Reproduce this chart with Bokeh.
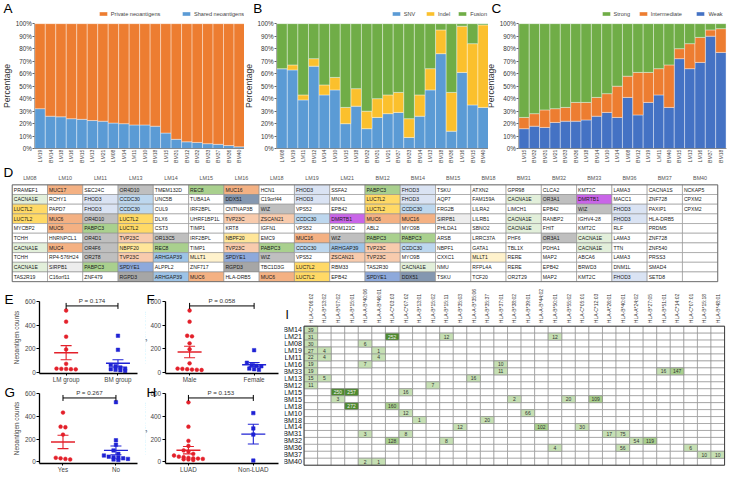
import math
import numpy as np
from bokeh.plotting import figure
from bokeh.models import (Range1d, FixedTicker, Label, Legend, LegendItem, ColumnDataSource)
from bokeh.layouts import row, column
from bokeh.embed import file_html
from bokeh.resources import INLINE
from bokeh.core.properties import value

FONT = "Liberation Sans"

# ---------------- data: panel A ----------------
A_SAMPLES = ["LM19", "BM14", "LM18", "LM16", "BM15", "LM13", "LM21", "LM08", "LM14", "LM11",
             "LM10", "BM18", "LM15", "BM31", "BM12", "BM32", "BM33", "BM37", "BM36", "BM40"]
A_SHARED = [32, 26, 25.5, 24, 23.5, 22.5, 22, 20.5, 20, 19, 19, 18, 12.5, 7.5, 5.5, 5, 4, 3.5, 2.5, 1.5]
A_PRIVATE = [68, 74, 74.5, 76, 76.5, 77.5, 78, 79.5, 80, 81, 81, 82, 87.5, 92.5, 94.5, 95, 96, 96.5, 97.5, 98.5]

# ---------------- data: panel B ----------------
B_SAMPLES = ["LM08", "LM19", "LM11", "BM12", "LM14", "LM10", "LM15", "LM18", "BM32", "BM31",
             "LM21", "BM37", "BM33", "BM14", "LM13", "BM18", "BM36", "LM16", "BM15", "BM40"]
B_SNV = [64, 63, 39, 66, 43, 47, 20, 34, 16, 25, 28, 29, 9, 26, 47, 76, 14, 61, 35, 33]
B_INDEL = [0, 4, 4, 6, 8, 10, 13, 14, 14, 15, 15, 16, 15, 17, 17, 19, 31, 37, 49, 66]
B_FUSION = [36, 33, 57, 28, 49, 43, 67, 52, 70, 60, 57, 55, 76, 57, 36, 5, 55, 2, 16, 1]

# ---------------- data: panel C ----------------
C_SAMPLES = ["LM15", "BM32", "BM31", "LM21", "BM33", "BM36", "LM18", "BM14", "LM10", "LM14",
             "LM08", "BM12", "LM19", "LM11", "BM40", "BM15", "LM13", "LM16", "BM37", "BM18"]
C_WEAK = [16, 18, 17, 21, 22, 22, 23, 26, 29, 25, 41, 27, 37, 43, 33, 72, 64, 69, 90, 77]
C_INTER = [9, 10, 14, 11, 11, 15, 14, 15, 15, 25, 17, 34, 24, 21, 34, 8, 20, 20, 5, 19]
C_STRONG = [75, 72, 69, 68, 67, 63, 63, 59, 56, 50, 42, 39, 39, 36, 33, 20, 16, 11, 5, 4]

# ---------------- data: panel D (table) ----------------
D_SAMPLES = ["LM08", "LM10", "LM11", "LM13", "LM14", "LM15", "LM16", "LM18", "LM19", "LM21",
             "BM12", "BM14", "BM15", "BM18", "BM31", "BM32", "BM33", "BM36", "BM37", "BM40"]
D_ROW1 = ["PRAMEF1", "MUC17", "SEC24C", "OR4D10", "TMEM132D", "REC8", "MUC16", "HCN1", "FHOD3", "SSFA2",
          "PABPC3", "FHOD3", "TSKU", "ATXN2", "GPR98", "CLCA2", "KMT2C", "LAMA3", "CACNA1S", "NCKAP5"]
D_ROW2 = ["CACNA1E", "RCHY1", "FHOD3", "CCDC30", "UNC5B", "TUBA1A", "DDX51", "C19orf44", "FHOD3", "MNX1",
          "LUC7L2", "FHOD3", "AQP7", "FAM159A", "CACNA1E", "OR3A1", "DMRTB1", "MACC1", "ZNF728", "CPXM2"]
D_ROW3 = ["LUC7L2", "PAPD7", "FHOD3", "CCDC30", "CUL9", "IRF2BPL", "CNTNAP3B", "WIZ", "VPS52", "EPB42",
          "LUC7L2", "CCDC30", "FRG2B", "LILRA2", "LIMCH1", "EPB42", "WIZ", "FHOD3", "PAXIP1", "CPXM2"]
D_ROW4 = ["LUC7L2", "MUC6", "OR4D10", "LUC7L2", "DLX6", "UHRF1BP1L", "TVP23C", "ZSCAN21", "CCDC30", "DMRTB1",
          "MUC6", "MUC16", "SIRPB1", "LILRB1", "CACNA1E", "RANBP2", "IGHV4-28", "FHOD3", "HLA-DRB5", ""]
D_ROW5 = ["MYCBP2", "MUC6", "PABPC3", "LUC7L2", "CST3", "TIMP1", "KRT8", "IGFN1", "VPS52", "POM121C",
          "ABL2", "MYO9B", "PHLDA1", "SBNO2", "CACNA1E", "FHIT", "KMT2C", "RLF", "PRDM5", ""]
D_ROW6 = ["TCHH", "HNRNPCL1", "OR4D1", "TVP23C", "OR13C5", "IRF2BPL", "NBPF20", "EMC9", "MUC16", "WIZ",
          "PABPC3", "PABPC3", "ARSB", "LRRC37A", "PHF6", "OR3A1", "CACNA1E", "LAMA3", "ZNF728", ""]
D_ROW7 = ["CACNA1E", "MUC4", "OR4F6", "NBPF20", "REC8", "TIMP1", "TVP23C", "PABPC3", "CCDC30", "ARHGAP39",
          "TVP23C", "CCDC30", "NBPF1", "GATA1", "TBL1X", "PDHA1", "CACNA1E", "TTN", "ZNF540", ""]
D_ROW8 = ["TCHH", "RP4-576H24", "OR2T8", "TVP23C", "ARHGAP39", "MLLT1", "SPDYE1", "WIZ", "VPS52", "ZSCAN21",
          "TVP23C", "MYO9B", "CXXC1", "MLLT1", "RERE", "MAP2", "ABCA6", "LAMA3", "PRSS3", ""]
D_ROW9 = ["CACNA1E", "SIRPB1", "PABPC3", "SPDYE1", "ALPPL2", "ZNF717", "RGPD3", "TBC1D3G", "LUC7L2", "RBM33",
          "TAS2R30", "CACNA1E", "NMU", "RFPL4A", "RERE", "EPB42", "BRWD3", "DNM1L", "SMAD4", ""]
D_ROW10 = ["TAS2R19", "C16orf11", "ZNF479", "RGPD3", "ARHGAP39", "MUC6", "HLA-DRB5", "MUC6", "LUC7L2", "EPB42",
           "SPDYE1", "DDX51", "TSKU", "TCF20", "OR2T29", "MAP2", "KMT2C", "FHOD3", "SETD8", ""]
D_ROWS = [D_ROW1, D_ROW2, D_ROW3, D_ROW4, D_ROW5, D_ROW6, D_ROW7, D_ROW8, D_ROW9, D_ROW10]

# ---------------- data: panels E-H ----------------
E_CATS = ["LM group", "BM group"]
E_LM = [525, 430, 302, 193, 71, 30, 28, 27, 25, 24]
E_BM = [310, 190, 60, 50, 40, 30, 25, 20, 15, 10]
E_P = "P = 0.174"

F_CATS = ["Male", "Female"]
F_MALE = [525, 430, 310, 305, 245, 195, 75, 30, 28, 25, 22, 20, 18]
F_FEMALE = [187, 80, 60, 55, 50, 30, 25, 20]
F_P = "P = 0.058"

G_CATS = ["Yes", "No"]
G_YES = [435, 310, 305, 240, 35, 30, 25, 20]
G_NO = [527, 190, 150, 100, 70, 55, 45, 40, 35, 30, 25, 20, 15]
G_P = "P = 0.267"

H_CATS = ["LUAD", "Non-LUAD"]
H_LUAD = [525, 310, 185, 140, 100, 90, 70, 55, 45, 40, 35, 30, 28, 25, 22, 20, 15]
H_NONLUAD = [430, 295, 240, 10]
H_P = "P = 0.153"

# ---------------- data: panel I (heatmap) ----------------
I_SAMPLES = ["BM14", "LM21", "LM08", "LM19", "LM11", "LM16", "BM33", "LM13", "BM12", "LM15",
             "BM15", "LM18", "LM10", "BM18", "LM14", "BM31", "BM32", "BM36", "BM37", "BM40"]
I_ALLELES = ["HLA-C*06:02", "HLA-B*13:02", "HLA-B*07:02", "HLA-B*15:01", "HLA-A-B*40:06",
             "HLA-A-B*46:01", "HLA-C*03:03", "HLA-C*07:02", "HLA-B*13:01", "HLA-B*15:02",
             "HLA-B*15:11", "HLA-B*35:03", "HLA-A-B*35:06", "HLA-B*35:37", "HLA-B*37:01",
             "HLA-B*38:02", "HLA-B*39:01", "HLA-A-B*44:02", "HLA-B*50:01", "HLA-B*55:02",
             "HLA-C*05:01", "HLA-C*12:03", "HLA-A*26:01", "HLA-B*40:01", "HLA-A*24:02",
             "HLA-B*27:05", "HLA-B*51:01", "HLA-C*14:02", "HLA-C*07:01", "HLA-B*15:18", "HLA-B*48:01"]
I_CELL_SAMPLE = ["BM14",
                 "LM21", "LM21", "LM21", "LM21",
                 "LM08", "LM08",
                 "LM19", "LM19", "LM19",
                 "LM11", "LM11", "LM11",
                 "LM16", "LM16", "LM16",
                 "BM33", "BM33", "BM33", "BM33",
                 "LM13", "LM13", "LM13",
                 "BM12", "BM12",
                 "LM15", "LM15", "LM15",
                 "BM15", "BM15", "BM15", "BM15",
                 "LM18", "LM18",
                 "LM10", "LM10",
                 "BM18", "BM18",
                 "LM14", "LM14", "LM14",
                 "BM31", "BM31", "BM31", "BM31",
                 "BM32", "BM32", "BM32", "BM32",
                 "BM36", "BM36", "BM36",
                 "BM37", "BM37",
                 "BM40", "BM40"]
I_CELL_ALLELE = ["HLA-C*06:02",
                 "HLA-C*06:02", "HLA-C*03:03", "HLA-B*15:11", "HLA-B*50:01",
                 "HLA-C*06:02", "HLA-A-B*40:06",
                 "HLA-C*06:02", "HLA-B*13:02", "HLA-A-B*46:01",
                 "HLA-C*06:02", "HLA-B*13:02", "HLA-A-B*46:01",
                 "HLA-C*06:02", "HLA-A-B*40:06", "HLA-B*37:01",
                 "HLA-C*06:02", "HLA-B*37:01", "HLA-B*51:01", "HLA-C*14:02",
                 "HLA-C*06:02", "HLA-B*13:02", "HLA-A-B*35:06",
                 "HLA-C*06:02", "HLA-B*15:02",
                 "HLA-B*07:02", "HLA-B*15:01", "HLA-C*07:02",
                 "HLA-B*07:02", "HLA-B*38:02", "HLA-B*55:02", "HLA-C*12:03",
                 "HLA-B*15:01", "HLA-C*03:03",
                 "HLA-C*07:02", "HLA-B*39:01",
                 "HLA-B*13:01", "HLA-B*35:37",
                 "HLA-B*35:03", "HLA-A-B*44:02", "HLA-C*05:01",
                 "HLA-A-B*40:06", "HLA-C*07:02", "HLA-A*26:01", "HLA-B*40:01",
                 "HLA-C*03:03", "HLA-B*15:11", "HLA-A*24:02", "HLA-B*27:05",
                 "HLA-B*50:01", "HLA-B*40:01", "HLA-C*07:01",
                 "HLA-B*15:18", "HLA-B*48:01",
                 "HLA-A-B*40:06", "HLA-A-B*46:01"]
I_CELL_VALUE = [39,
                31, 252, 12, 12,
                30, 6,
                27, 4, 1,
                22, 4, 4,
                19, 7, 10,
                19, 11, 16, 147,
                15, 5, 16,
                11, 7,
                250, 257, 16,
                3, 2, 20, 109,
                272, 160,
                12, 66,
                1, 20,
                12, 102, 30,
                3, 8, 17, 75,
                128, 8, 54, 119,
                4, 56, 6,
                10, 10,
                2, 1]

# ---------------- styles ----------------
ORANGE = "#ED7D31"
LBLUE = "#5B9BD5"
YELLOW = "#FBC02D"
GREEN = "#70AD47"
DBLUE = "#4472C4"
RED = "#E3202A"
PBLUE = "#1F22D4"

GENE_COLORS = {
    "MUC17": "#F4B183", "MUC16": "#F4B183", "MUC6": "#F4B183", "MUC4": "#F4B183",
    "OR4D10": "#BFBFBF", "OR4D1": "#BFBFBF", "OR4F6": "#BFBFBF", "OR2T8": "#BFBFBF",
    "OR13C5": "#BFBFBF", "OR3A1": "#BFBFBF", "WIZ": "#BFBFBF", "RGPD3": "#A6A6A6",
    "REC8": "#A9D08E", "PABPC3": "#A9D08E", "CACNA1E": "#E2EFDA",
    "FHOD3": "#DAE3F3", "CCDC30": "#BDD7EE", "LUC7L2": "#FFD966",
    "TVP23C": "#F8CBAD", "ZSCAN21": "#F8CBAD", "NBPF20": "#FFE699", "MLLT1": "#FFF2CC",
    "DDX51": "#8497B0", "DMRTB1": "#C965E8", "SPDYE1": "#8EA9DB", "ARHGAP39": "#9DC3E6",
    "SIRPB1": "#EDEDED",
}

SX = 727 / 743
SY = 475 / 491


def gx(v):
    return int(round(v * SX))


def gy(v):
    return int(round(v * SY))


class Geo:
    """Maps reference-picture pixels of one panel box to that panel's data space."""

    def __init__(self, box, fx, dx, fy, dy):
        self.box = box
        self.fx0, self.dx0 = fx[0], dx[0]
        self.kx = (dx[1] - dx[0]) / (fx[1] - fx[0])
        self.fy0, self.dy0 = fy[0], dy[0]
        self.ky = (dy[1] - dy[0]) / (fy[1] - fy[0])

    def x(self, px):
        return self.dx0 + (px - self.fx0) * self.kx

    def y(self, py):
        return self.dy0 + (py - self.fy0) * self.ky

    def ppu_x(self):
        return SX / abs(self.kx)


def make_fig(geo, **kw):
    x0, y0, x1, y1 = geo.box
    p = figure(width=gx(x1) - gx(x0), height=gy(y1) - gy(y0),
               x_range=Range1d(geo.x(x0), geo.x(x1)), y_range=Range1d(geo.y(y1), geo.y(y0)),
               output_backend="svg", toolbar_location=None,
               min_border=0, min_border_left=0, min_border_right=0,
               min_border_top=0, min_border_bottom=0, **kw)
    p.background_fill_color = "white"
    p.border_fill_color = "white"
    p.outline_line_color = None
    p.xgrid.visible = False
    p.ygrid.visible = False
    return p


def add_letter(p, geo, rx, ry_top, text, size="13.5px"):
    p.add_layout(Label(x=geo.x(rx), y=geo.y(ry_top), x_units="data", y_units="data",
                       text=text, text_font=FONT, text_font_size=size, text_color="black",
                       text_baseline="top", text_align="left"))


def legend_at(geo, items, rx, ry_bottom):
    return Legend(items=items,
                  location=((rx - geo.box[0]) * SX, (geo.box[3] - ry_bottom) * SY),
                  orientation="horizontal", glyph_width=10, glyph_height=5,
                  label_height=6, label_standoff=3, padding=0, margin=0, spacing=0,
                  label_text_font=FONT, label_text_font_size="5.6px",
                  label_text_color="#444444", border_line_color=None,
                  background_fill_alpha=0)


TOP_H = 170


def bar_panel(letter, letter_x, samples, keys, series, colors, legend_spec, box, bars_x):
    n = len(samples)
    geo = Geo(box, bars_x, (-0.5, n - 0.5), (153.6, 24), (0, 100))
    p = make_fig(geo)
    idx = list(range(n))
    data = {"x": idx}
    for k, s in zip(keys, series):
        data[k] = s
    rs = p.vbar_stack(keys, x="x", width=1.0, source=ColumnDataSource(data),
                      fill_color=colors, line_color="white", line_width=0.7, line_alpha=0.55)
    ya = p.yaxis[0]
    ya.fixed_location = -0.5
    ya.bounds = (0, 100)
    ya.ticker = FixedTicker(ticks=list(range(0, 101, 10)))
    ya.major_label_overrides = {t: f"{t}%" for t in range(0, 101, 10)}
    ya.major_label_text_font = FONT
    ya.major_label_text_font_size = "6.3px"
    ya.major_label_text_color = "#333333"
    ya.major_label_standoff = 1
    ya.axis_label = "Percentage"
    ya.axis_label_text_font = FONT
    ya.axis_label_text_font_size = "8.6px"
    ya.axis_label_text_font_style = "normal"
    ya.axis_label_text_color = "#333333"
    ya.axis_label_standoff = 0
    ya.axis_line_color = "#9a9a9a"
    ya.axis_line_width = 0.8
    ya.major_tick_out = 2
    ya.major_tick_in = 0
    ya.major_tick_line_color = "#666666"
    ya.minor_tick_line_color = None
    xa = p.xaxis[0]
    xa.fixed_location = 0
    xa.bounds = (-0.5, n - 0.5)
    xa.ticker = FixedTicker(ticks=idx)
    xa.major_label_overrides = {i: s for i, s in zip(idx, samples)}
    xa.major_label_orientation = math.pi / 2
    xa.major_label_text_font = FONT
    xa.major_label_text_font_size = "5.1px"
    xa.major_label_text_color = "#444444"
    xa.major_label_standoff = 1
    xa.major_tick_out = 0
    xa.major_tick_in = 0
    xa.axis_line_color = "#777777"
    xa.axis_line_width = 0.8
    xa.major_tick_line_color = None
    xa.minor_tick_line_color = None
    for ri, lab, rx in legend_spec:
        p.add_layout(legend_at(geo, [LegendItem(label=lab, renderers=[rs[ri]])], rx, 17.8))
    add_letter(p, geo, letter_x, 1, letter)
    return p


pA = bar_panel("A", 3, A_SAMPLES, ["shared", "private"], [A_SHARED, A_PRIVATE], [LBLUE, ORANGE],
               [(1, "Private neoantigens", 100), (0, "Shared neoantigens", 185)],
               (0, 0, 249, TOP_H), (35, 249))
pB = bar_panel("B", 258, B_SAMPLES, ["snv", "indel", "fusion"], [B_SNV, B_INDEL, B_FUSION],
               [LBLUE, YELLOW, GREEN],
               [(0, "SNV", 399), (1, "Indel", 434), (2, "Fusion", 467)],
               (249, 0, 499, TOP_H), (282, 499))
pC = bar_panel("C", 502, C_SAMPLES, ["weak", "inter", "strong"], [C_WEAK, C_INTER, C_STRONG],
               [DBLUE, ORANGE, GREEN],
               [(2, "Strong", 614), (1, "Intermediate", 652), (0, "Weak", 711)],
               (499, 0, 743, TOP_H), (530, 741.5))

# ---------------- panel D ----------------
nD = len(D_SAMPLES)
geoD = Geo((0, TOP_H, 743, 295), (12, 733), (-0.5, nD - 0.5), (291, 191), (len(D_ROWS) - 0.5, -0.5))
pD = make_fig(geoD, x_axis_location="above")
dx, dy, dt, dc = [], [], [], []
for ri, rowvals in enumerate(D_ROWS):
    for ci, g in enumerate(rowvals):
        dx.append(ci)
        dy.append(ri)
        dt.append(g)
        dc.append(GENE_COLORS.get(g, "white"))
pD.rect(x=dx, y=dy, width=1, height=1, fill_color=dc, line_color="#8f8f8f", line_width=0.6)
pD.rect(x=[(nD - 1) / 2], y=[(len(D_ROWS) - 1) / 2], width=nD, height=len(D_ROWS),
        fill_color=None, line_color="#666666", line_width=0.8)
cell_w = geoD.ppu_x()
pD.text(x=dx, y=dy, text=dt, x_offset=-cell_w / 2 + 1.5, text_align="left", text_baseline="middle",
        text_font=value(FONT), text_font_size="5.1px", text_color="#1a1a1a")
pD.yaxis.visible = False
xa = pD.xaxis[0]
xa.fixed_location = -0.5
xa.ticker = FixedTicker(ticks=list(range(nD)))
xa.major_label_overrides = {i: s for i, s in enumerate(D_SAMPLES)}
xa.major_label_text_font = FONT
xa.major_label_text_font_size = "5.4px"
xa.major_label_text_color = "#555555"
xa.major_label_standoff = 4
xa.major_tick_out = 0
xa.major_tick_in = 0
xa.axis_line_color = None
xa.major_tick_line_color = None
xa.minor_tick_line_color = None
add_letter(pD, geoD, 3, TOP_H + 0.5, "D")


# ---------------- panels E-H ----------------
def swarm(vals, center, step, tol):
    clusters = []
    for v in sorted(vals, reverse=True):
        if clusters and clusters[-1][0] - v <= tol:
            clusters[-1][1].append(v)
        else:
            clusters.append([v, [v]])
    xs, ys = [], []
    for _, members in clusters:
        n = len(members)
        for i, v in enumerate(members):
            xs.append(center + (i - (n - 1) / 2) * step)
            ys.append(v)
    return xs, ys


def scatter_panel(letter, lpos, cats, groups, pval, box, fx, dxr, fy, dyr):
    geo = Geo(box, fx, dxr, fy, dyr)
    p = make_fig(geo)
    ppu = geo.ppu_x()
    specs = [("circle", RED, 3.8), ("square", PBLUE, 3.5)]
    for gi, vals in enumerate(groups):
        mk, col, sz = specs[gi]
        xs, ys = swarm(vals, gi, 4.8 / ppu, 30)
        p.scatter(xs, ys, marker=mk, size=sz, fill_color=col, line_color=col, line_width=0.5)
        arr = np.array(vals, dtype=float)
        m = arr.mean()
        s = arr.std(ddof=1) / np.sqrt(len(arr))
        p.scatter([gi], [m], marker="dash", size=24, line_color=col, line_width=1.4)
        p.segment([gi], [m - s], [gi], [m + s], line_color=col, line_width=1.1)
        p.scatter([gi, gi], [m - s, m + s], marker="dash", size=11, line_color=col, line_width=1.1)
    yb = dyr[1] * 0.94
    p.segment([0], [yb], [1], [yb], line_color="black", line_width=1)
    p.scatter([0, 1], [yb, yb], marker="dash", angle=math.pi / 2, size=6, line_color="black", line_width=1)
    p.add_layout(Label(x=0.5, y=yb, text=pval, text_align="center", text_baseline="bottom", y_offset=2,
                       text_font=FONT, text_font_size="6.2px", text_color="#333333"))
    ya = p.yaxis[0]
    ya.fixed_location = dxr[0]
    ya.bounds = (dyr[0], dyr[1])
    ya.ticker = FixedTicker(ticks=[0, 200, 400, 600])
    ya.axis_label = "Neoantigen counts"
    ya.axis_label_text_font = FONT
    ya.axis_label_text_font_size = "6.4px"
    ya.axis_label_text_font_style = "normal"
    ya.axis_label_standoff = 2
    ya.major_label_text_font = FONT
    ya.major_label_text_font_size = "6.4px"
    ya.major_label_standoff = 1
    ya.axis_line_width = 1.3
    ya.major_tick_line_width = 1.2
    ya.major_tick_out = 3
    ya.major_tick_in = 0
    ya.minor_tick_line_color = None
    xa = p.xaxis[0]
    xa.fixed_location = dyr[0]
    xa.bounds = (dxr[0], dxr[1])
    xa.ticker = FixedTicker(ticks=[0, 1])
    xa.major_label_overrides = {0: cats[0], 1: cats[1]}
    xa.major_label_text_font = FONT
    xa.major_label_text_font_size = "6.3px"
    xa.major_label_standoff = 0
    xa.axis_line_width = 1.3
    xa.major_tick_out = 2
    xa.major_tick_in = 0
    xa.minor_tick_line_color = None
    add_letter(p, geo, lpos[0], lpos[1], letter)
    return p


MID = 397
pE = scatter_panel("E", (4, 302), E_CATS, [E_LM, E_BM], E_P,
                   (0, 295, 148, MID), (40, 140), (-0.51, 1.38), (385.7, 311.7), (-12, 600))
pF = scatter_panel("F", (149, 302), F_CATS, [F_MALE, F_FEMALE], F_P,
                   (148, 295, 290, MID), (168, 284), (-0.38, 1.38), (385.7, 311.7), (-12, 600))
pG = scatter_panel("G", (4, MID + 0.5), G_CATS, [G_YES, G_NO], G_P,
                   (0, MID, 148, 491), (40, 140), (-0.44, 1.41), (479, 406.7), (-19, 600))
pH = scatter_panel("H", (149, MID + 0.5), H_CATS, [H_LUAD, H_NONLUAD], H_P,
                   (148, MID, 290, 491), (168, 284), (-0.36, 1.39), (479, 406.7), (-19, 600))

# ---------------- panel I ----------------
nA, nS = len(I_ALLELES), len(I_SAMPLES)
geoI = Geo((290, 295, 743, 491), (310, 740), (-0.5, nA - 0.5), (480.4, 337), (nS - 0.5, -0.5))
pI = make_fig(geoI, x_axis_location="above")
a_idx = {a: i for i, a in enumerate(I_ALLELES)}
s_idx = {s: i for i, s in enumerate(I_SAMPLES)}
gxs = [ai for si in range(nS) for ai in range(nA)]
gys = [si for si in range(nS) for ai in range(nA)]
pI.rect(x=gxs, y=gys, width=1, height=1, fill_color="white", line_color="#8a8a8a", line_width=0.6)


def heat_color(v):
    if v >= 200:
        return "#4E8B2F"
    if v >= 100:
        return "#A9D08E"
    return "#C6E0B4"


cx = [a_idx[a] for a in I_CELL_ALLELE]
cy = [s_idx[s] for s in I_CELL_SAMPLE]
pI.rect(x=cx, y=cy, width=1, height=1,
        fill_color=[heat_color(v) for v in I_CELL_VALUE], line_color="#8a8a8a", line_width=0.6)
pI.text(x=cx, y=cy, text=[str(v) for v in I_CELL_VALUE],
        text_align="center", text_baseline="middle", text_font=value(FONT), text_font_size="5px",
        text_color=["#f2f2f2" if v >= 200 else "#333333" for v in I_CELL_VALUE])
pI.rect(x=[(nA - 1) / 2], y=[(nS - 1) / 2], width=nA, height=nS,
        fill_color=None, line_color="#333333", line_width=0.9)
xa = pI.xaxis[0]
xa.fixed_location = -0.5
xa.ticker = FixedTicker(ticks=list(range(nA)))
xa.major_label_overrides = {i: a for i, a in enumerate(I_ALLELES)}
xa.major_label_orientation = math.pi / 2
xa.major_label_text_font = FONT
xa.major_label_text_font_size = "5px"
xa.major_label_text_color = "#333333"
xa.major_label_standoff = 3
xa.major_tick_out = 0
xa.major_tick_in = 0
xa.axis_line_color = None
xa.major_tick_line_color = None
xa.minor_tick_line_color = None
ya = pI.yaxis[0]
ya.fixed_location = -0.5
ya.ticker = FixedTicker(ticks=list(range(nS)))
ya.major_label_overrides = {i: s for i, s in enumerate(I_SAMPLES)}
ya.major_label_text_font = FONT
ya.major_label_text_font_size = "7.2px"
ya.major_label_text_color = "#111111"
ya.major_label_standoff = 2
ya.major_tick_out = 0
ya.major_tick_in = 0
ya.axis_line_color = None
ya.major_tick_line_color = None
ya.minor_tick_line_color = None
add_letter(pI, geoI, 291, 318, "I", size="12px")

layout = column(row(pA, pB, pC), pD, row(column(row(pE, pF), row(pG, pH)), pI))
open("out.html", "w").write(file_html(layout, INLINE, title="chart"))
